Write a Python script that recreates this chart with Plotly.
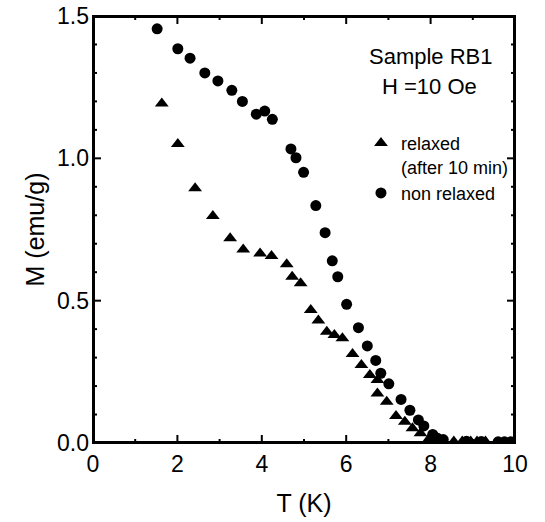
import numpy as np
import plotly.graph_objects as go

# non relaxed (circles)
T_non = [1.52, 2.01, 2.30, 2.65, 2.96, 3.29, 3.54, 3.87, 4.07, 4.25, 4.69, 4.81, 4.99, 5.28,
         5.50, 5.67, 5.80, 6.01, 6.29, 6.50, 6.70, 6.82, 7.01, 7.30, 7.51, 7.71, 7.84, 8.05,
         8.15, 8.30, 8.85, 9.20, 9.60, 9.75, 9.90]
M_non = [1.455, 1.385, 1.352, 1.300, 1.272, 1.239, 1.200, 1.155, 1.166, 1.137, 1.033, 1.002, 0.951, 0.834,
         0.739, 0.640, 0.584, 0.487, 0.405, 0.341, 0.290, 0.245, 0.208, 0.153, 0.115, 0.081, 0.060, 0.030,
         0.018, 0.012, 0.006, 0.005, 0.004, 0.004, 0.004]

# relaxed (triangles)
T_rel = [1.63, 2.01, 2.42, 2.84, 3.25, 3.56, 3.96, 4.23, 4.59, 4.72, 4.92, 5.16, 5.34, 5.54,
         5.72, 5.91, 6.15, 6.36, 6.56, 6.74, 6.74, 6.96, 7.18, 7.39, 7.57, 7.76, 7.95,
         8.55, 8.75, 8.95, 9.10, 9.30]
M_rel = [1.193, 1.050, 0.895, 0.797, 0.719, 0.680, 0.666, 0.657, 0.628, 0.584, 0.561, 0.467, 0.430, 0.391,
         0.379, 0.368, 0.313, 0.274, 0.239, 0.221, 0.174, 0.145, 0.095, 0.075, 0.052, 0.034, 0.012,
         0.005, 0.005, 0.005, 0.005, 0.005]

x_range = [0, 10]
y_range = [0, 1.5]
x_major_step = 2
x_minor_step = 1
y_major_step = 0.5
y_minor_step = 0.1

FONT = "Arial, Liberation Sans, sans-serif"
W, H = 545, 522
M_L, M_R, M_T, M_B = 93, 30, 16, 79
plot_w = W - M_L - M_R
plot_h = H - M_T - M_B
dx_px = (x_range[1] - x_range[0]) / plot_w   # data units per pixel
dy_px = (y_range[1] - y_range[0]) / plot_h

fig = go.Figure()
fig.add_trace(go.Scatter(x=T_rel, y=M_rel, mode="markers", name="relaxed<br>(after 10 min)",
                         marker=dict(symbol="triangle-up", size=12, color="black")))
fig.add_trace(go.Scatter(x=T_non, y=M_non, mode="markers", name="non relaxed",
                         marker=dict(symbol="circle", size=11, color="black")))

# inside ticks on all four sides, derived from the axis ranges and steps
tx, ty = [], []
for v in np.arange(x_range[0], x_range[1] + 1e-9, x_minor_step):
    if not (x_range[0] < v < x_range[1]):
        continue
    major = abs(v / x_major_step - round(v / x_major_step)) < 1e-6
    L = (8 if major else 4) * dy_px
    tx += [v, v, None, v, v, None]
    ty += [y_range[0], y_range[0] + L, None, y_range[1], y_range[1] - L, None]
for v in np.arange(y_range[0], y_range[1] + 1e-9, y_minor_step):
    if not (y_range[0] < v < y_range[1] - 1e-9):
        continue
    major = abs(v / y_major_step - round(v / y_major_step)) < 1e-6
    L = (8 if major else 4) * dx_px
    tx += [x_range[0], x_range[0] + L, None, x_range[1], x_range[1] - L, None]
    ty += [v, v, None, v, v, None]
fig.add_trace(go.Scatter(x=tx, y=ty, mode="lines", showlegend=False, hoverinfo="skip",
                         line=dict(color="black", width=2)))
# frame (half of the 4px line is clipped, leaving 2px inside)
fig.add_trace(go.Scatter(x=[x_range[0], x_range[1], x_range[1], x_range[0], x_range[0]],
                         y=[y_range[0], y_range[0], y_range[1], y_range[1], y_range[0]],
                         mode="lines", showlegend=False, hoverinfo="skip",
                         line=dict(color="black", width=4)))

shapes = [dict(type="rect", xref="paper", yref="paper", x0=0, x1=1, y0=0, y1=1,
               line=dict(color="black", width=2), layer="above")]

fig.update_layout(
    width=W, height=H,
    margin=dict(l=M_L, r=M_R, t=M_T, b=M_B),
    paper_bgcolor="white", plot_bgcolor="white",
    xaxis=dict(range=x_range, tickmode="linear", tick0=0, dtick=x_major_step, automargin=False,
               showline=False, ticks="", showgrid=False, zeroline=False, ticklabelstandoff=5,
               tickfont=dict(family=FONT, size=23, color="black"),
               title=dict(text="T (K)", font=dict(family=FONT, size=25, color="black"), standoff=18)),
    yaxis=dict(range=y_range, tickmode="linear", tick0=0, dtick=y_major_step, tickformat=".1f",
               automargin=False,
               showline=False, ticks="", showgrid=False, zeroline=False, ticklabelstandoff=3,
               tickfont=dict(family=FONT, size=23, color="black"),
               title=dict(text="M (emu/g)", font=dict(family=FONT, size=25, color="black"), standoff=5)),
    shapes=shapes,
    showlegend=True,
    legend=dict(x=0.635, y=0.745, xanchor="left", yanchor="top", valign="top",
                bgcolor="rgba(0,0,0,0)", borderwidth=0,
                font=dict(family=FONT, size=18, color="black"),
                tracegroupgap=0),
    annotations=[
        dict(x=0.80, y=0.905, xref="paper", yref="paper", text="Sample RB1", showarrow=False,
             font=dict(family=FONT, size=22, color="black"), xanchor="center", yanchor="middle"),
        dict(x=0.797, y=0.836, xref="paper", yref="paper", text="H =10 Oe", showarrow=False,
             font=dict(family=FONT, size=22, color="black"), xanchor="center", yanchor="middle"),
    ],
)

fig.write_html("out.html")
